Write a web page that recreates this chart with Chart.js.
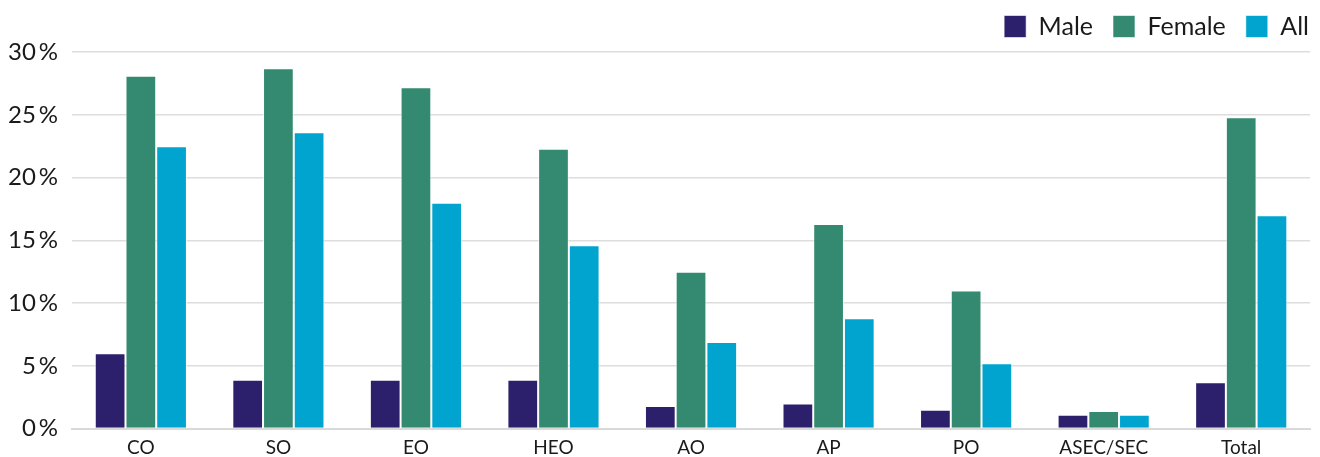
<!DOCTYPE html>
<html>
<head>
<meta charset="utf-8">
<script src="https://cdn.jsdelivr.net/npm/chart.js@4/dist/chart.umd.min.js"></script>
<style>
  html, body { margin: 0; padding: 0; background: #fff; }
  #wrap { width: 1320px; height: 457px; }
</style>
</head>
<body>
<div id="wrap"><canvas id="chart"></canvas></div>
<script>
const categories = ['CO', 'SO', 'EO', 'HEO', 'AO', 'AP', 'PO', 'ASEC/SEC', 'Total'];
const maleValues = [6.0, 3.9, 3.9, 3.9, 1.8, 2.0, 1.5, 1.1, 3.7];
const femaleValues = [28.1, 28.7, 27.2, 22.3, 12.5, 16.3, 11.0, 1.4, 24.8];
const allValues = [22.5, 23.6, 18.0, 14.6, 6.9, 8.8, 5.2, 1.1, 17.0];
const yTicks = [0, 5, 10, 15, 20, 25, 30];

const ctx = document.getElementById('chart').getContext('2d');

const barStyle = {
  borderColor: 'rgba(255,255,255,0.6)',
  borderWidth: 1,
  barPercentage: 1,
  categoryPercentage: 0.67,
};

// nudge the legend: a bit more room below it, and pushed to the right edge
const legendTweak = {
  id: 'legendTweak',
  beforeInit(chart) {
    const fit = chart.legend.fit;
    chart.legend.fit = function () {
      fit.call(this);
      this.height += 3;
    };
  },
  afterLayout(chart) {
    chart.legend.left += 19;
    chart.legend.right += 19;
  },
};

new Chart(ctx, {
  type: 'bar',
  data: {
    labels: categories,
    datasets: [
      { label: 'Male', backgroundColor: '#2c1f6b', data: maleValues, ...barStyle },
      { label: 'Female', backgroundColor: '#338a70', data: femaleValues, ...barStyle },
      { label: 'All', backgroundColor: '#00a4cf', data: allValues, ...barStyle },
    ]
  },
  plugins: [legendTweak],
  options: {
    responsive: true,
    maintainAspectRatio: false,
    animation: false,
    layout: { padding: { left: -6, right: 10, top: -6, bottom: -4 } },
    plugins: {
      legend: {
        position: 'top',
        align: 'end',
        labels: {
          boxWidth: 22,
          boxHeight: 22,
          padding: 20,
          color: '#1a1a1a',
          font: { family: 'Lato', size: 25 },
        },
      },
      tooltip: { enabled: false },
    },
    scales: {
      x: {
        grid: { display: false },
        border: { color: '#d9d9d9', width: 2 },
        ticks: { padding: 0, color: '#1a1a1a', font: { family: 'Lato', size: 19 } },
      },
      y: {
        min: 0,
        max: 30,
        afterBuildTicks: (axis) => { axis.ticks = yTicks.map(v => ({ value: v })); },
        grid: { color: '#dddddd', lineWidth: 1.5, drawTicks: false },
        border: { display: false },
        ticks: {
          padding: 14,
          color: '#1a1a1a',
          font: { family: 'Lato', size: 24 },
          callback: (v) => v + '\u2009%',
        },
      },
    },
  },
});
</script>
</body>
</html>
